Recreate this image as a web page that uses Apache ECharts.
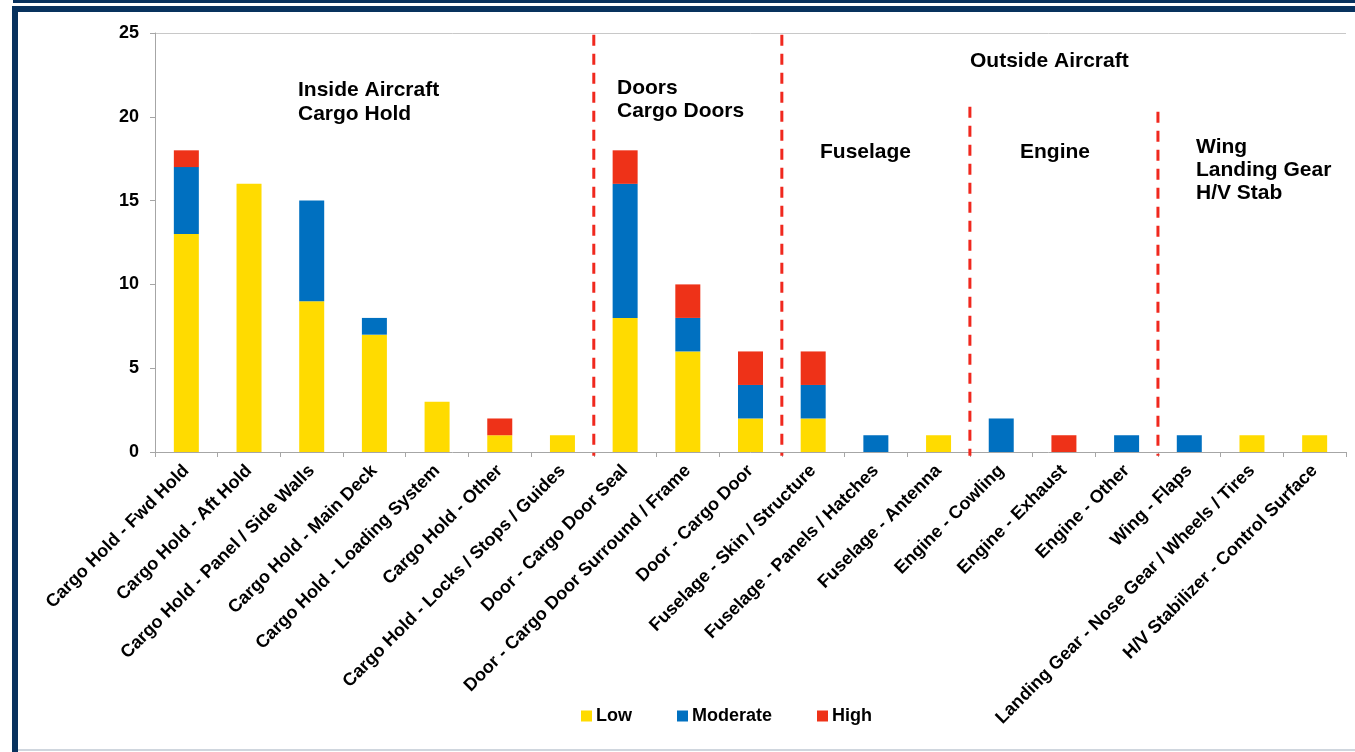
<!DOCTYPE html>
<html>
<head>
<meta charset="utf-8">
<script src="https://cdn.jsdelivr.net/npm/echarts@6/dist/echarts.min.js"></script>
<style>
  html, body { margin: 0; padding: 0; background: #fff; }
  #chart { width: 1355px; height: 752px; }
</style>
</head>
<body>
<div id="chart"></div>
<script>
// Event categories along the x axis
const categories = [
  'Cargo Hold - Fwd Hold',
  'Cargo Hold - Aft Hold',
  'Cargo Hold - Panel / Side Walls',
  'Cargo Hold - Main Deck',
  'Cargo Hold - Loading System',
  'Cargo Hold - Other',
  'Cargo Hold - Locks / Stops / Guides',
  'Door - Cargo Door Seal',
  'Door - Cargo Door Surround / Frame',
  'Door - Cargo Door',
  'Fuselage - Skin / Structure',
  'Fuselage - Panels / Hatches',
  'Fuselage - Antenna',
  'Engine - Cowling',
  'Engine - Exhaust',
  'Engine - Other',
  'Wing - Flaps',
  'Landing Gear - Nose Gear / Wheels / Tires',
  'H/V Stabilizer - Control Surface'
];

// Counts by severity
const lowValues      = [13, 16, 9, 7, 3, 1, 1, 8, 6, 2, 2, 0, 1, 0, 0, 0, 0, 1, 1];
const moderateValues = [ 4,  0, 6, 1, 0, 0, 0, 8, 2, 2, 2, 1, 0, 2, 0, 1, 1, 0, 0];
const highValues     = [ 1,  0, 0, 0, 0, 1, 0, 2, 2, 2, 2, 0, 0, 0, 1, 0, 0, 0, 0];

// Y axis ticks
const yTicks = [0, 5, 10, 15, 20, 25];

// Group separators: [index of first category in the group, top value]
const separators = [[7, 24.9], [10, 24.9], [13, 20.6], [16, 20.3]];
const separatorBottom = -0.22;

const chart = echarts.init(document.getElementById('chart'));

const fontFamily = 'Arial, "Liberation Sans", sans-serif';
const bold = { fontFamily: fontFamily, fontWeight: 'bold', color: '#000' };
const headingFont = 'bold 21px Arial, "Liberation Sans", sans-serif';

function heading(text, left, top, lineHeight) {
  return {
    type: 'text', left: left, top: top, z: 10,
    style: { text: text, font: headingFont, lineHeight: lineHeight || 24, fill: '#000' }
  };
}

// Dashed separator drawn on the left edge of a category band
function renderSeparator(params, api) {
  const idx = api.value(0);
  const top = api.coord([idx, api.value(1)]);
  const bottom = api.coord([idx, separatorBottom]);
  const band = api.size([1, 0])[0];
  const x = top[0] - band / 2;
  return {
    type: 'line',
    shape: { x1: x, y1: top[1], x2: x, y2: bottom[1] },
    style: { stroke: '#F0281E', lineWidth: 3, lineDash: [11, 8] },
    z2: 5
  };
}

const option = {
  animation: false,
  backgroundColor: '#fff',
  grid: { left: 155, right: 9, top: 33, bottom: 300, containLabel: false },
  legend: {
    top: 702,
    left: 576,
    itemWidth: 11,
    itemHeight: 11,
    itemGap: 45,
    icon: 'rect',
    textStyle: Object.assign({ fontSize: 18, padding: [0, 0, 0, -1] }, bold),
    data: ['Low', 'Moderate', 'High']
  },
  xAxis: {
    type: 'category',
    data: categories,
    axisLine: { lineStyle: { color: '#a6a6a6', width: 1 } },
    axisTick: { show: true, length: 5, lineStyle: { color: '#a6a6a6' } },
    axisLabel: Object.assign({ rotate: 45, interval: 0, fontSize: 18, margin: 16 }, bold),
    splitLine: { show: false }
  },
  yAxis: {
    type: 'value',
    min: yTicks[0],
    max: yTicks[yTicks.length - 1],
    interval: 5,
    axisLine: { show: true, lineStyle: { color: '#a6a6a6' } },
    axisTick: { show: true, length: 5, lineStyle: { color: '#a6a6a6' } },
    axisLabel: Object.assign({ fontSize: 18, margin: 16 }, bold),
    splitLine: {
      show: true,
      lineStyle: { color: ['none', 'none', 'none', 'none', 'none', '#c8c8c8'], width: 1 }
    }
  },
  series: [
    {
      name: 'Low', type: 'bar', stack: 'sev', data: lowValues, barWidth: 25,
      itemStyle: { color: '#FFDB00' }
    },
    {
      name: 'Moderate', type: 'bar', stack: 'sev', data: moderateValues, barWidth: 25,
      itemStyle: { color: '#0070C0' }
    },
    {
      name: 'High', type: 'bar', stack: 'sev', data: highValues, barWidth: 25,
      itemStyle: { color: '#EE3218' }
    },
    {
      type: 'custom',
      silent: true,
      clip: false,
      renderItem: renderSeparator,
      encode: { x: 0, y: 1 },
      data: separators,
      z: 5
    }
  ],
  graphic: [
    // frame
    { type: 'rect', shape: { x: 13, y: 0, width: 1342, height: 3 }, style: { fill: '#08325E' } },
    { type: 'rect', shape: { x: 12, y: 6, width: 1343, height: 6 }, style: { fill: '#08325E' } },
    { type: 'rect', shape: { x: 12, y: 6, width: 6, height: 746 }, style: { fill: '#08325E' } },
    { type: 'rect', shape: { x: 18, y: 749, width: 1337, height: 2 }, style: { fill: '#cfd6de' } },
    // group headings
    heading('Inside Aircraft\nCargo Hold', 298, 78, 24),
    heading('Doors\nCargo Doors', 617, 77, 23),
    heading('Outside Aircraft', 970, 49, 24),
    heading('Fuselage', 820, 140, 24),
    heading('Engine', 1020, 140, 24),
    heading('Wing\nLanding Gear\nH/V Stab', 1196, 136, 23)
  ]
};

chart.setOption(option);
</script>
</body>
</html>
